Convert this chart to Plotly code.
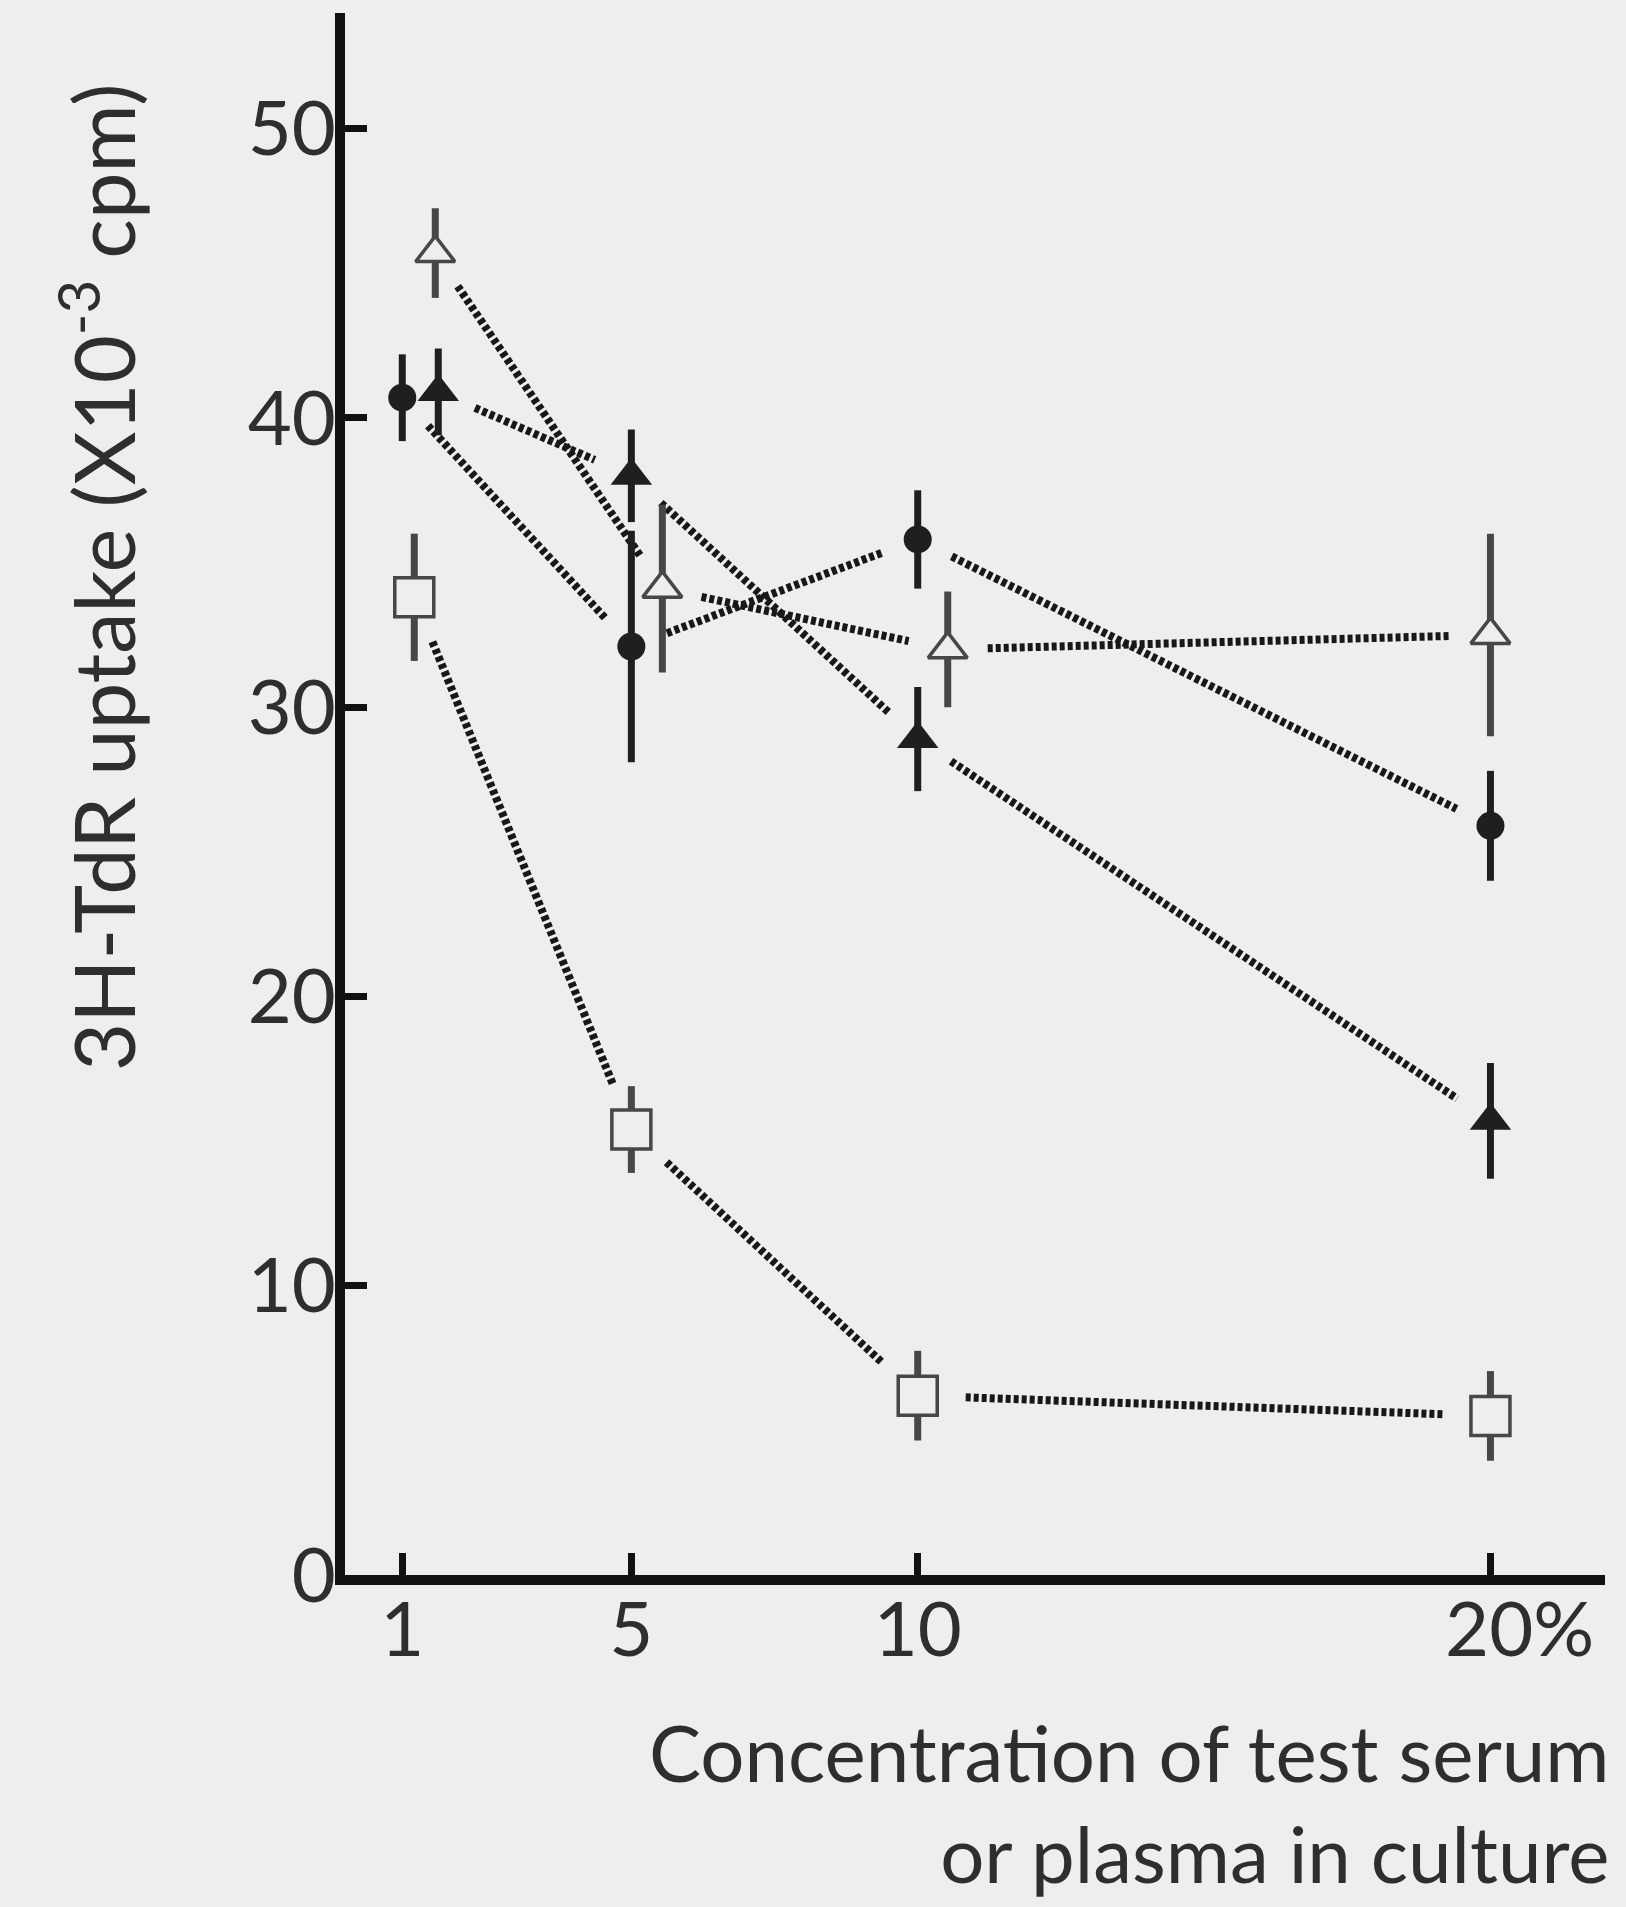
import math
import plotly.graph_objects as go

# ---------------- data ----------------
conc = [1, 5, 10, 20]                                  # % test serum / plasma
x_tick_labels = ["1", "5", "10", "\u00a0\u00a0\u00a020%"]
y_tick_vals = [0, 10, 20, 30, 40, 50]
y_tick_labels = ["0", "10", "20", "30", "40", "50"]

filled_circle = [40.7, 32.1, 35.8, 25.9]
filled_circle_err = [1.5, 4.0, 1.7, 1.9]
filled_triangle = [40.9, 38.0, 28.9, 15.7]
filled_triangle_err = [1.5, 1.6, 1.8, 2.0]
open_triangle = [45.7, 34.1, 32.0, 32.5]
open_triangle_err = [1.55, 2.9, 2.0, 3.5]
open_square = [33.8, 15.4, 6.2, 5.5]
open_square_err = [2.2, 1.5, 1.55, 1.55]

y_title = "3H-TdR uptake (X10<sup>-3</sup> cpm)"
x_title = "Concentration of test serum<br>or plasma in culture"

# ---------------- layout constants ----------------
W, H = 1626, 1907
ML, MR, MT, MB = 345, 21, 13, 332
X_RANGE = [0, 22.0]
Y_RANGE = [0, 54.0]
PX_X = (W - ML - MR) / (X_RANGE[1] - X_RANGE[0])
PX_Y = (H - MT - MB) / (Y_RANGE[1] - Y_RANGE[0])

BG = "#eeeeee"
INK = "#1f1f1f"
GREY = "#474747"
TEXT = "#2e2e2e"
FONT = "Lato"

series = [
    dict(y=filled_circle, err=filled_circle_err, symbol="circle", size=28,
         fill=INK, edge=INK, lw=0, bar=INK, offset_px=[0, 0, 0, 0], gap=38),
    dict(y=filled_triangle, err=filled_triangle_err, symbol="triangle-up", size=36,
         fill=INK, edge=INK, lw=0, bar=INK, offset_px=[36, 0, 0, 0], gap=40),
    dict(y=open_triangle, err=open_triangle_err, symbol="triangle-up", size=34,
         fill=BG, edge=GREY, lw=3.5, bar=GREY, offset_px=[33, 31, 30, 0], gap=40),
    dict(y=open_square, err=open_square_err, symbol="square", size=39,
         fill=BG, edge=GREY, lw=3.5, bar=GREY, offset_px=[12, 0, 0, 0], gap=48),
]

fig = go.Figure()

# dotted connecting lines (gapped near the markers)
for s in series:
    xs = [c + o / PX_X for c, o in zip(conc, s["offset_px"])]
    lx, ly = [], []
    for i in range(len(xs) - 1):
        x0, y0 = xs[i] * PX_X, s["y"][i] * PX_Y
        x1, y1 = xs[i + 1] * PX_X, s["y"][i + 1] * PX_Y
        d = math.hypot(x1 - x0, y1 - y0)
        ux, uy = (x1 - x0) / d, (y1 - y0) / d
        g = s["gap"]
        lx += [(x0 + ux * g) / PX_X, (x1 - ux * g) / PX_X, None]
        ly += [(y0 + uy * g) / PX_Y, (y1 - uy * g) / PX_Y, None]
    fig.add_trace(go.Scatter(x=lx, y=ly, mode="lines", hoverinfo="skip",
                             line=dict(color="#181818", width=8, dash="5px,3px"),
                             showlegend=False))

# markers with error bars
for s in series:
    xs = [c + o / PX_X for c, o in zip(conc, s["offset_px"])]
    fig.add_trace(go.Scatter(
        x=xs, y=s["y"], mode="markers", showlegend=False,
        marker=dict(symbol=s["symbol"], size=s["size"], color=s["fill"],
                    line=dict(color=s["edge"], width=s["lw"])),
        error_y=dict(type="data", array=s["err"], visible=True,
                     color=s["bar"], thickness=7, width=0),
    ))

axis_common = dict(showline=True, linewidth=10, linecolor="#111111", ticks="inside",
                   ticklen=22, tickwidth=7, tickcolor="#111111", showgrid=False,
                   zeroline=False, automargin=False,
                   tickfont=dict(family=FONT, size=76, color=TEXT))

fig.update_layout(
    width=W, height=H, template="none",
    margin=dict(l=ML, r=MR, t=MT, b=MB, pad=0),
    paper_bgcolor=BG, plot_bgcolor=BG,
    xaxis=dict(range=X_RANGE, tickvals=conc, ticktext=x_tick_labels,
               ticklabelstandoff=-20, **axis_common),
    yaxis=dict(range=Y_RANGE, tickvals=y_tick_vals, ticktext=y_tick_labels,
               ticklabelstandoff=-16, **axis_common),
    annotations=[
        dict(text=y_title, textangle=-90, xref="paper", yref="paper",
             x=(98 - ML) / (W - ML - MR), y=(H - MB - 578) / (H - MT - MB),
             xanchor="center", yanchor="middle", showarrow=False,
             font=dict(family=FONT, size=83, color=TEXT)),
        dict(text=x_title, xref="paper", yref="paper", align="right",
             x=(1611 - ML) / (W - ML - MR), y=(H - MB - 1803) / (H - MT - MB),
             xanchor="right", yanchor="middle", showarrow=False,
             font=dict(family=FONT, size=78, color=TEXT)),
    ],
)

fig.write_html("out.html")
